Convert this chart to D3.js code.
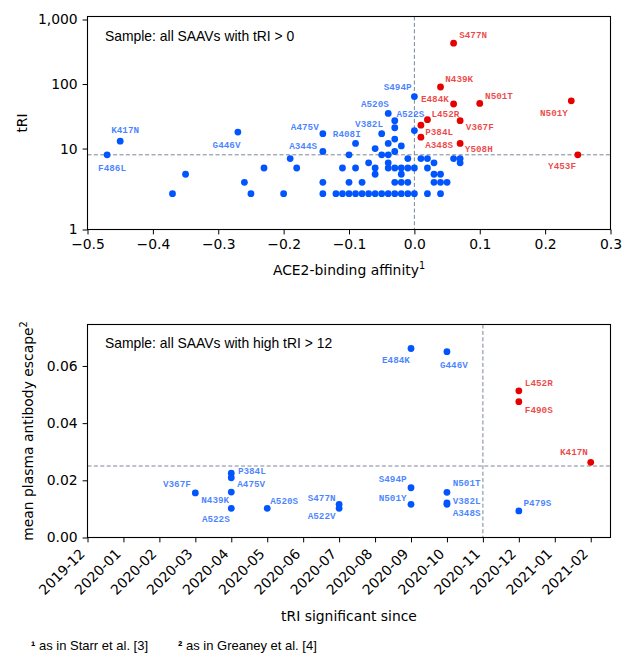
<!DOCTYPE html>
<html>
<head>
<meta charset="utf-8">
<script src="https://cdn.jsdelivr.net/npm/d3@7"></script>
<style>
  body { margin: 0; background: #fff; }
  svg { display: block; }
</style>
</head>
<body>
<svg id="chart" width="623" height="653"></svg>
<script>
// ---------- Panel A: ACE2-binding affinity vs tRI (all SAAVs with tRI > 0) ----------
const affinityTicks = [-0.5, -0.4, -0.3, -0.2, -0.1, 0.0, 0.1, 0.2, 0.3];
const triTicks = [1, 10, 100, 1000];

// named variants
const namedVariants = ["S477N", "N439K", "E484K", "N501T", "N501Y", "L452R", "V367F", "P384L",
  "A348S", "Y508H", "Y453F", "K417N", "F486L", "G446V", "A475V", "A344S", "R408I", "V382L",
  "A520S", "A522S", "S494P"];
const namedAffinity = [0.06, 0.04, 0.06, 0.10, 0.24, 0.02, 0.07, 0.01,
  0.01, 0.07, 0.25, -0.45, -0.47, -0.27, -0.14, -0.14, -0.09, -0.05,
  -0.04, -0.03, 0.00];
const namedTRI = [430, 90, 49, 50, 55, 28, 27, 23,
  15, 12, 8, 13, 8, 18, 17, 9, 12, 17,
  35, 27, 64];

// remaining (unlabelled) variants
const otherAffinity = [-0.37, -0.35, -0.26, -0.25, -0.23, -0.20, -0.19, -0.18,
  -0.14, -0.14, -0.12, -0.11, -0.11, -0.10, -0.10, -0.10, -0.09, -0.09, -0.08, -0.08,
  -0.07, -0.07, -0.06, -0.06, -0.06, -0.06, -0.05, -0.05,
  -0.04, -0.04, -0.04, -0.04, -0.04,
  -0.03, -0.03, -0.03, -0.03, -0.03, -0.03,
  -0.02, -0.02, -0.02, -0.02, -0.02,
  -0.01, -0.01, -0.01, -0.01,
  0.00, 0.00, 0.00, 0.01, 0.02, 0.02, 0.02, 0.03, 0.03, 0.03,
  0.04, 0.04, 0.04, 0.05, 0.06, 0.07, 0.07];
const otherTRI = [2, 4, 3, 2, 5, 2, 7, 5,
  3, 2, 2, 5, 2, 8, 3, 2, 5, 2, 3, 2,
  6, 2, 10, 5, 4, 2, 8, 2,
  12, 8, 6, 5, 2,
  21, 14, 9, 5, 3, 2,
  11, 5, 4, 3, 2,
  7, 5, 3, 2,
  19, 5, 2, 7, 7, 5, 2, 6, 4, 3,
  4, 3, 2, 3, 7, 7, 6];

const TRI_CUT = 8;       // horizontal guide in panel A
const AFFINITY_CUT = 0;  // vertical guide in panel A

// ---------- Panel B: tRI significant since vs mean plasma antibody escape ----------
const months = ["2019-12", "2020-01", "2020-02", "2020-03", "2020-04", "2020-05", "2020-06",
  "2020-07", "2020-08", "2020-09", "2020-10", "2020-11", "2020-12", "2021-01", "2021-02"];
const escapeTicks = [0.00, 0.02, 0.04, 0.06];

const escVariants = ["V367F", "P384L", "A475V", "N439K", "A522S", "A520S", "S477N", "A522V",
  "E484K", "S494P", "N501Y", "G446V", "N501T", "V382L", "A348S", "L452R", "F490S", "P479S", "K417N"];
const escMonth = ["2020-03", "2020-04", "2020-04", "2020-04", "2020-04", "2020-05", "2020-07", "2020-07",
  "2020-09", "2020-09", "2020-09", "2020-10", "2020-10", "2020-10", "2020-10", "2020-12", "2020-12", "2020-12", "2021-02"];
const escValue = [0.0156, 0.0225, 0.0209, 0.0159, 0.0102, 0.0102, 0.0116, 0.0102,
  0.0661, 0.0174, 0.0116, 0.0650, 0.0158, 0.0121, 0.0116, 0.0513, 0.0475, 0.0093, 0.0263];

const ESCAPE_CUT = 0.025;
const MONTH_CUT = "2020-11";

// ---------- label placement (px offsets from the marker centre) ----------
const labelOffsetA = {
  K417N: [-9, -11], F486L: [-9, 13], G446V: [-25.3, 12.7], A475V: [-32, -7], A344S: [-33.7, -6],
  R408I: [-22.7, -9.3], V382L: [-26.6, -10], A520S: [-27.3, -10], A522S: [1.7, -7], S494P: [-30.7, -9.3],
  S477N: [5.6, -8.7], N439K: [4.7, -8.4], E484K: [-32.7, -5.7], N501T: [5.3, -7.7], N501Y: [-31.3, 12],
  L452R: [4, -5.7], V367F: [5.7, 6], P384L: [4.3, 6.7], A348S: [4.3, 7.3], Y508H: [4.7, 5.7], Y453F: [-29.7, 11.4]
};
const labelOffsetB = {
  P384L: [6.6, -2.3], A475V: [6, 6.3], N439K: [-30, 8], A522S: [-29.4, 10], V367F: [-32.4, -9],
  A520S: [3, -7.3], S477N: [-31.4, -7], A522V: [-31.4, 7.7], E484K: [-29, 11.6], G446V: [-7, 13],
  L452R: [6, -8], F490S: [6, 8], K417N: [-30.7, -10.3], S494P: [-32.3, -8.7], N501Y: [-32.3, -6.3],
  N501T: [5.7, -9.3], V382L: [5.7, -2], A348S: [5.7, 8.4], P479S: [4.7, -8.3]
};

// ---------- styling ----------
const BLUE = "#0055ff", RED = "#e60000", GUIDE = "#7a8797";
const TICK_FONT = "'DejaVu Sans', sans-serif";
const TEXT_FONT = "'Liberation Sans', Arial, sans-serif";
const LABEL_FONT = "'Liberation Mono', 'Courier New', monospace";
const FS = 13.9;
const R_DOT = 3.4;

const L = 87.5, R = 610.5;
const topA = 16.5, botA = 229.5, topB = 324.5, botB = 537.5;

const svg = d3.select("#chart");

// symmetric-log transform (linear below LINTHRESH, log10 above)
const LINTHRESH = 2, LINSCALE = 1 / (1 - 1 / 10);
const symlog = v => v <= LINTHRESH ? (v / LINTHRESH) * LINSCALE : LINSCALE + Math.log10(v / LINTHRESH);
const symlogInv = t => t <= LINSCALE ? (t / LINSCALE) * LINTHRESH : LINTHRESH * Math.pow(10, t - LINSCALE);

function styleAxis(g) {
  g.select(".domain").remove();
  g.attr("font-family", TICK_FONT).attr("font-size", FS);
  g.selectAll(".tick line").attr("stroke", "#000").attr("stroke-width", 1);
  g.selectAll(".tick text").attr("fill", "#000");
}

function frame(g, top, bot) {
  g.append("rect")
    .attr("x", L).attr("y", top).attr("width", R - L).attr("height", bot - top)
    .attr("fill", "none").attr("stroke", "#000").attr("stroke-width", 1.1);
}

function guides(g, xv, yv, top, bot) {
  g.append("line").attr("x1", L).attr("x2", R).attr("y1", yv).attr("y2", yv)
    .attr("stroke", GUIDE).attr("stroke-width", 1).attr("stroke-dasharray", "4,2.4");
  g.append("line").attr("x1", xv).attr("x2", xv).attr("y1", top).attr("y2", bot)
    .attr("stroke", GUIDE).attr("stroke-width", 1).attr("stroke-dasharray", "4,2.4");
}

function drawLabels(g, rows, offsets) {
  g.selectAll("text.lab").data(rows.filter(d => d.name)).join("text")
    .attr("class", "lab")
    .attr("x", d => d.px + offsets[d.name][0])
    .attr("y", d => d.py + offsets[d.name][1])
    .attr("dy", "0.35em")
    .attr("font-family", LABEL_FONT).attr("font-weight", "bold").attr("font-size", 9.3)
    .attr("fill", d => d.hot ? RED : BLUE).attr("fill-opacity", 0.72)
    .text(d => d.name);
}

// ===================== Panel A =====================
const xA = d3.scaleLinear().domain([-0.5, 0.3]).range([L, R]);
const yAt = d3.scaleLinear().domain([symlog(1), symlog(1113)]).range([botA, topA]);
const yA = v => yAt(symlog(v));

const gA = svg.append("g");
guides(gA, xA(AFFINITY_CUT), yA(TRI_CUT), topA, botA);

const rowsA = namedVariants.map((n, i) => ({ name: n, a: namedAffinity[i], t: namedTRI[i] }))
  .concat(otherAffinity.map((a, i) => ({ name: "", a, t: otherTRI[i] })));
rowsA.forEach(d => {
  d.px = xA(d.a); d.py = yA(d.t);
  d.hot = d.a > AFFINITY_CUT && d.t >= TRI_CUT;
});

gA.selectAll("circle").data(rowsA).join("circle")
  .attr("cx", d => d.px).attr("cy", d => d.py).attr("r", R_DOT)
  .attr("fill", d => d.hot ? RED : BLUE);
drawLabels(gA, rowsA, labelOffsetA);

gA.append("g").attr("transform", `translate(0,${botA})`)
  .call(d3.axisBottom(xA).tickValues(affinityTicks).tickFormat(d3.format(".1f"))
    .tickSizeInner(4.9).tickSizeOuter(0).tickPadding(4.9))
  .call(styleAxis);
gA.append("g").attr("transform", `translate(${L},0)`)
  .call(d3.axisLeft(yAt).tickValues(triTicks.map(symlog))
    .tickFormat(t => d3.format(",")(Math.round(symlogInv(t))))
    .tickSizeInner(4.9).tickSizeOuter(0).tickPadding(4.9))
  .call(styleAxis);
frame(gA, topA, botA);

gA.append("text").attr("x", 105).attr("y", 40.5)
  .attr("font-family", TEXT_FONT).attr("font-size", FS).text("Sample: all SAAVs with tRI > 0");

const xlabA = gA.append("text").attr("x", (L + R) / 2).attr("y", 275).attr("text-anchor", "middle")
  .attr("font-family", TICK_FONT).attr("font-size", FS);
xlabA.append("tspan").text("ACE2-binding affinity");
xlabA.append("tspan").attr("font-size", 9.7).attr("dy", -5.6).text("1");

gA.append("text").attr("transform", `translate(26.5,${(topA + botA) / 2}) rotate(-90)`)
  .attr("text-anchor", "middle").attr("font-family", TICK_FONT).attr("font-size", FS).text("tRI");

// ===================== Panel B =====================
const xB = d3.scaleLinear().domain([0, 14.55]).range([L, R]);
const yB = d3.scaleLinear().domain([0, 0.0745]).range([botB, topB]);
const monthIndex = m => months.indexOf(m);

const gB = svg.append("g");
guides(gB, xB(monthIndex(MONTH_CUT)), yB(ESCAPE_CUT), topB, botB);

const rowsB = escVariants.map((n, i) => ({ name: n, m: escMonth[i], v: escValue[i] }));
rowsB.forEach(d => {
  d.px = xB(monthIndex(d.m)); d.py = yB(d.v);
  d.hot = monthIndex(d.m) > monthIndex(MONTH_CUT) && d.v > ESCAPE_CUT;
});

gB.selectAll("circle").data(rowsB).join("circle")
  .attr("cx", d => d.px).attr("cy", d => d.py).attr("r", R_DOT)
  .attr("fill", d => d.hot ? RED : BLUE);
drawLabels(gB, rowsB, labelOffsetB);

const axB = gB.append("g").attr("transform", `translate(0,${botB})`)
  .call(d3.axisBottom(xB).tickValues(months.map((m, i) => i)).tickFormat(i => months[i])
    .tickSizeInner(4.9).tickSizeOuter(0).tickPadding(4.9))
  .call(styleAxis);
axB.selectAll(".tick text")
  .attr("x", null).attr("y", null).attr("dy", null)
  .attr("text-anchor", "end")
  .attr("transform", "translate(-2.3,17.3) rotate(-45)");

gB.append("g").attr("transform", `translate(${L},0)`)
  .call(d3.axisLeft(yB).tickValues(escapeTicks).tickFormat(d3.format(".2f"))
    .tickSizeInner(4.9).tickSizeOuter(0).tickPadding(4.9))
  .call(styleAxis);
frame(gB, topB, botB);

gB.append("text").attr("x", 105).attr("y", 347.5)
  .attr("font-family", TEXT_FONT).attr("font-size", FS).text("Sample: all SAAVs with high tRI > 12");

gB.append("text").attr("x", (L + R) / 2).attr("y", 621).attr("text-anchor", "middle")
  .attr("font-family", TICK_FONT).attr("font-size", FS).text("tRI significant since");

const ylabB = gB.append("text").attr("transform", `translate(33,${(topB + botB) / 2}) rotate(-90)`)
  .attr("text-anchor", "middle").attr("font-family", TICK_FONT).attr("font-size", FS);
ylabB.append("tspan").text("mean plasma antibody escape");
ylabB.append("tspan").attr("font-size", 9.7).attr("dy", -5.6).text("2");

// footnotes
const foot1 = svg.append("text").attr("x", 31).attr("y", 650)
  .attr("font-family", TEXT_FONT).attr("font-size", 13);
foot1.append("tspan").attr("font-weight", "bold").text("¹");
foot1.append("tspan").text(" as in Starr et al. [3]");
const foot2 = svg.append("text").attr("x", 178).attr("y", 650)
  .attr("font-family", TEXT_FONT).attr("font-size", 13);
foot2.append("tspan").attr("font-weight", "bold").text("²");
foot2.append("tspan").text(" as in Greaney et al. [4]");
</script>
</body>
</html>
